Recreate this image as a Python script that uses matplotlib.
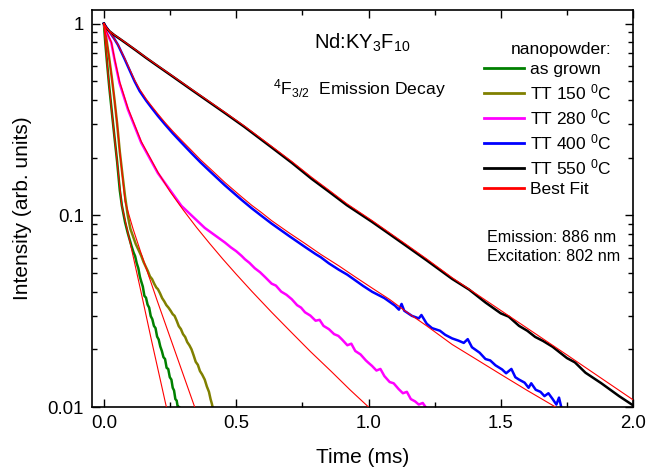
import matplotlib
matplotlib.use("Agg")
import matplotlib.pyplot as plt
from matplotlib.ticker import FixedLocator, LogLocator, MultipleLocator, NullFormatter

plt.rcParams['font.family'] = ['Liberation Sans', 'DejaVu Sans']
plt.rcParams['mathtext.fontset'] = 'custom'
plt.rcParams['mathtext.rm'] = 'Liberation Sans'
plt.rcParams['mathtext.it'] = 'Liberation Sans'
plt.rcParams['mathtext.bf'] = 'Liberation Sans:bold'

# decay curves, time in ms, intensity normalised to 1
t_grown = [0.0, 0.005, 0.012, 0.02, 0.03, 0.04, 0.05, 0.06, 0.068, 0.08, 0.09,
           0.104, 0.112, 0.118, 0.124, 0.130, 0.136, 0.141, 0.147, 0.153, 0.159,
           0.165, 0.171, 0.177, 0.183, 0.189, 0.195, 0.201, 0.207, 0.213, 0.219,
           0.225, 0.231, 0.237, 0.243, 0.249, 0.255, 0.260, 0.265, 0.270, 0.275,
           0.280, 0.284]
i_grown = [1.0, 0.80, 0.62, 0.47, 0.345, 0.255, 0.19, 0.135, 0.112, 0.092, 0.081,
           0.0693, 0.0640, 0.0612, 0.0562, 0.0530, 0.0478, 0.0452, 0.0425, 0.0380, 0.0372,
           0.0342, 0.0330, 0.0298, 0.0287, 0.0265, 0.0258, 0.0233, 0.0225, 0.0207, 0.0196,
           0.0182, 0.0178, 0.0160, 0.0158, 0.0143, 0.0139, 0.0126, 0.0122, 0.0110, 0.0108,
           0.0098, 0.0100]

t_150 = [0.0, 0.01, 0.02, 0.03, 0.04, 0.05, 0.06, 0.07, 0.08, 0.09, 0.10, 0.12,
         0.141, 0.150, 0.158, 0.166, 0.174, 0.182, 0.190, 0.198, 0.204, 0.212,
         0.220, 0.228, 0.236, 0.244, 0.252, 0.260, 0.267, 0.275, 0.283, 0.291,
         0.299, 0.307, 0.315, 0.323, 0.331, 0.339, 0.347, 0.355, 0.363, 0.371,
         0.381, 0.389, 0.397, 0.403, 0.408, 0.412]
i_150 = [1.0, 0.82, 0.66, 0.52, 0.40, 0.30, 0.215, 0.163, 0.125, 0.100, 0.085, 0.071,
         0.0615, 0.0570, 0.0540, 0.0512, 0.0480, 0.0465, 0.0440, 0.0420, 0.0412, 0.0392,
         0.0370, 0.0356, 0.0340, 0.0330, 0.0318, 0.0305, 0.0299, 0.0282, 0.0264, 0.0255,
         0.0240, 0.0232, 0.0218, 0.0210, 0.0200, 0.0186, 0.0172, 0.0166, 0.0154, 0.0148,
         0.0139, 0.0128, 0.0120, 0.0110, 0.0104, 0.0098]

t_280 = [0.0, 0.01, 0.028, 0.04, 0.059, 0.091, 0.141, 0.204, 0.267, 0.293, 0.381,
         0.457, 0.48, 0.50, 0.52, 0.533, 0.55, 0.57, 0.59, 0.61, 0.634, 0.65, 0.67,
         0.69, 0.71, 0.73, 0.745, 0.76, 0.78, 0.80, 0.815, 0.83, 0.85, 0.87, 0.886,
         0.90, 0.92, 0.935, 0.95, 0.97, 0.99, 1.00, 1.013, 1.03, 1.045, 1.06, 1.08,
         1.095, 1.114, 1.13, 1.145, 1.16, 1.176, 1.19, 1.205, 1.22]
i_280 = [1.0, 0.90, 0.796, 0.65, 0.49, 0.356, 0.239, 0.166, 0.1255, 0.112, 0.086,
         0.0722, 0.0680, 0.0650, 0.0615, 0.0590, 0.0565, 0.0530, 0.0505, 0.0475, 0.0440, 0.0430, 0.0400,
         0.0385, 0.0365, 0.0340, 0.0330, 0.0312, 0.0300, 0.0282, 0.0285, 0.0265, 0.0255, 0.0240, 0.0235,
         0.0225, 0.0210, 0.0214, 0.0196, 0.0188, 0.0175, 0.0170, 0.0164, 0.0155, 0.0158, 0.0145, 0.0135,
         0.0133, 0.0124, 0.0118, 0.0120, 0.0110, 0.0107, 0.0103, 0.0105, 0.0098]

t_400 = [0.0, 0.01, 0.025, 0.04, 0.053, 0.065, 0.078, 0.095, 0.116, 0.135, 0.16,
         0.18, 0.204, 0.23, 0.26, 0.29, 0.331, 0.365, 0.40, 0.457, 0.52, 0.558,
         0.595, 0.634, 0.70, 0.76, 0.80, 0.82, 0.85, 0.888, 0.92, 0.95, 0.98, 1.014,
         1.06, 1.10, 1.115, 1.125, 1.135, 1.164, 1.19, 1.20, 1.22, 1.24, 1.27, 1.29,
         1.316, 1.34, 1.36, 1.375, 1.391, 1.42, 1.442, 1.46, 1.48, 1.505, 1.52,
         1.54, 1.555, 1.569, 1.59, 1.605, 1.615, 1.632, 1.65, 1.665, 1.68, 1.696,
         1.71, 1.72, 1.73, 1.745]
i_400 = [1.0, 0.955, 0.89, 0.83, 0.775, 0.715, 0.655, 0.58, 0.50, 0.445, 0.396,
         0.364, 0.330, 0.299, 0.268, 0.242, 0.211, 0.189, 0.170, 0.1435, 0.1205, 0.109,
         0.0995, 0.0905, 0.078, 0.0684, 0.0628, 0.0604, 0.0562, 0.0520, 0.0490, 0.0458, 0.0428, 0.0399,
         0.0370, 0.0338, 0.0322, 0.0345, 0.0318, 0.0299, 0.0290, 0.0302, 0.0272, 0.0258, 0.0250, 0.0238,
         0.0228, 0.0222, 0.0216, 0.0226, 0.0205, 0.0192, 0.0178, 0.0175, 0.0165, 0.0157, 0.0150,
         0.0158, 0.0143, 0.0139, 0.0134, 0.0126, 0.0133, 0.0123, 0.0120, 0.0114, 0.0118, 0.0110,
         0.0103, 0.0112, 0.0098, 0.0095]

t_550 = [0.0, 0.008, 0.02, 0.04, 0.06, 0.078, 0.12, 0.16, 0.204, 0.26, 0.331,
         0.40, 0.457, 0.53, 0.634, 0.71, 0.785, 0.85, 0.918, 1.013, 1.07, 1.138,
         1.22, 1.316, 1.38, 1.442, 1.50, 1.53, 1.569, 1.60, 1.63, 1.66, 1.696,
         1.75, 1.78, 1.82, 1.88, 1.947, 2.0]
i_550 = [1.0, 0.955, 0.915, 0.87, 0.833, 0.80, 0.727, 0.662, 0.60, 0.530, 0.452,
         0.388, 0.342, 0.290, 0.226, 0.188, 0.155, 0.133, 0.113, 0.0925, 0.0815, 0.0700,
         0.0582, 0.0466, 0.0410, 0.0351, 0.0308, 0.0296, 0.0265, 0.0250, 0.0232, 0.0221, 0.0206,
         0.0180, 0.0171, 0.0151, 0.0133, 0.0114, 0.0102]

# fitted curves
tf_grown = [0.0, 0.005, 0.012, 0.02, 0.03, 0.04, 0.05, 0.056, 0.062, 0.068, 0.10,
            0.14, 0.18, 0.236, 0.25]
if_grown = [1.0, 0.80, 0.62, 0.47, 0.345, 0.255, 0.19, 0.158, 0.132, 0.112, 0.071,
            0.040, 0.0222, 0.010, 0.0082]

tf_150 = [0.0, 0.01, 0.02, 0.03, 0.04, 0.05, 0.06, 0.07, 0.08, 0.11, 0.141, 0.20, 0.27, 0.343, 0.36]
if_150 = [1.0, 0.82, 0.66, 0.52, 0.40, 0.30, 0.215, 0.160, 0.118, 0.0851, 0.0631, 0.0363, 0.0193, 0.010, 0.0086]

tf_280 = [0.0, 0.01, 0.028, 0.04, 0.059, 0.091, 0.141, 0.204, 0.25, 0.30, 0.35, 0.40,
          0.45, 0.50, 0.56, 0.634, 0.70, 0.78, 0.86, 0.93, 1.0, 1.03]
if_280 = [1.0, 0.91, 0.80, 0.66, 0.50, 0.362, 0.243, 0.168, 0.133, 0.1065, 0.0865, 0.0712,
          0.0590, 0.0493, 0.0400, 0.0312, 0.0252, 0.0195, 0.0153, 0.0123, 0.0100, 0.0091]

tf_400 = [0.0, 0.01, 0.025, 0.04, 0.053, 0.065, 0.078, 0.095, 0.116, 0.135, 0.16,
          0.18, 0.204, 0.23, 0.26, 0.29, 0.331, 0.365, 0.40, 0.457, 0.52, 0.558,
          0.595, 0.634, 0.70, 0.76, 0.82, 0.888, 0.95, 1.014, 1.08, 1.14, 1.22,
          1.316, 1.40, 1.5, 1.6, 1.707, 1.75]
if_400 = [1.0, 0.955, 0.89, 0.83, 0.778, 0.72, 0.662, 0.588, 0.508, 0.455, 0.404,
          0.372, 0.338, 0.306, 0.275, 0.249, 0.218, 0.195, 0.176, 0.1485, 0.125, 0.113,
          0.1035, 0.0938, 0.081, 0.0713, 0.0625, 0.0545, 0.0477, 0.0417, 0.0364, 0.0316, 0.0265,
          0.0212, 0.0180, 0.0148, 0.0122, 0.0100, 0.0092]

tf_550 = [0.0, 0.008, 0.02, 0.04, 0.06, 0.078, 0.12, 0.16, 0.204, 0.26, 0.331,
          0.40, 0.457, 0.53, 0.634, 0.71, 0.785, 0.85, 0.918, 1.013, 1.07, 1.138,
          1.22, 1.316, 1.5, 1.75, 2.0]
if_550 = [1.0, 0.957, 0.918, 0.873, 0.836, 0.803, 0.730, 0.665, 0.603, 0.533, 0.455,
          0.391, 0.345, 0.293, 0.229, 0.191, 0.158, 0.1355, 0.1150, 0.0940, 0.0828, 0.0712,
          0.0592, 0.0473, 0.0319, 0.0187, 0.0109]

series = [
    (t_grown, i_grown, '#008000', 'as grown'),
    (t_150, i_150, '#808000', r'TT 150 $^{0}$C'),
    (t_280, i_280, '#ff00ff', r'TT 280 $^{0}$C'),
    (t_400, i_400, '#0000ff', r'TT 400 $^{0}$C'),
    (t_550, i_550, '#000000', r'TT 550 $^{0}$C'),
]
fits = [(tf_grown, if_grown), (tf_150, if_150), (tf_280, if_280),
        (tf_400, if_400), (tf_550, if_550)]

fig = plt.figure(figsize=(6.48, 4.70), dpi=100)
ax = fig.add_axes([0.142, 0.134, 0.835, 0.845])

for t, y, c, lab in series:
    ax.plot(t, y, color=c, lw=1.8, label=lab, zorder=2)
for k, (t, y) in enumerate(fits):
    ax.plot(t, y, color='#ff0000', lw=0.8, zorder=3,
            label='Best Fit' if k == 0 else None)

ax.set_yscale('log')
ax.set_xlim(-0.045, 2.0)
ax.set_ylim(0.01, 1.18)

ax.xaxis.set_major_locator(MultipleLocator(0.5))
ax.xaxis.set_minor_locator(MultipleLocator(0.25))
ax.xaxis.set_major_formatter(plt.FuncFormatter(lambda v, p: f'{v:.1f}'))
ax.yaxis.set_major_locator(FixedLocator([0.01, 0.1, 1]))
ax.yaxis.set_minor_locator(LogLocator(base=10, subs=range(2, 10)))
ax.yaxis.set_minor_formatter(NullFormatter())
ax.set_yticklabels(['0.01', '0.1', '1'])

ax.tick_params(which='both', direction='in', top=True, right=True, width=1.0,
               labelsize=13.4, pad=6)
ax.tick_params(which='major', length=5.5)
ax.tick_params(which='minor', length=3.5)
for s in ax.spines.values():
    s.set_linewidth(1.2)

ax.set_xlabel('Time (ms)', fontsize=15, labelpad=11)
ax.set_ylabel('Intensity (arb. units)', fontsize=15, labelpad=11)

ax.text(0.41, 0.902, r'Nd:KY$_3$F$_{10}$', transform=ax.transAxes,
        fontsize=14.5, va='baseline', ha='left')
ax.text(0.335, 0.788, r'$^4$F$_{3/2}$  Emission Decay', transform=ax.transAxes,
        fontsize=12.6, va='baseline', ha='left')
ax.text(0.730, 0.416, 'Emission: 886 nm', transform=ax.transAxes,
        fontsize=11.6, va='baseline', ha='left')
ax.text(0.730, 0.368, 'Excitation: 802 nm', transform=ax.transAxes,
        fontsize=11.6, va='baseline', ha='left')

leg = ax.legend(loc='upper right', bbox_to_anchor=(0.985, 0.955), frameon=False,
                fontsize=12.5, title='nanopowder:', title_fontsize=12.5,
                alignment='right', handlelength=2.3, handletextpad=0.35,
                labelspacing=0.295, borderpad=0.3)
for line in leg.get_lines():
    line.set_linewidth(2.0)

fig.savefig('out.png', dpi=100)
